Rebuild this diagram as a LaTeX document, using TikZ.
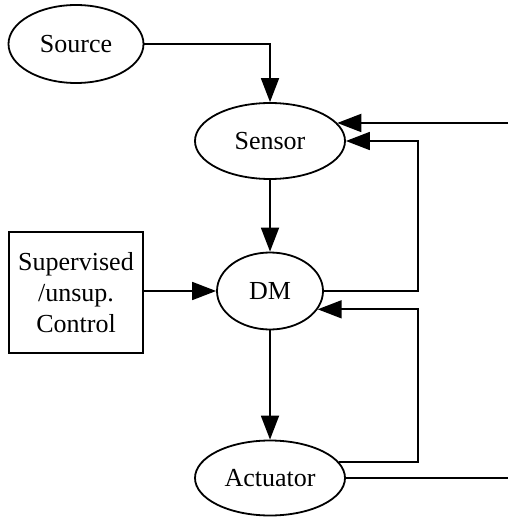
\documentclass[tikz,border=0pt]{standalone}
\usepackage{fontspec}
\setmainfont{Liberation Serif}
\usetikzlibrary{shapes.geometric,arrows.meta}
\begin{document}
\begin{tikzpicture}[x=1pt,y=-1pt,
  every node/.style={font=\fontsize{26}{31}\selectfont, align=center},
  blob/.style={ellipse, draw, line width=1.8pt, inner sep=0pt},
  ctrlbox/.style={rectangle, draw, line width=1.8pt, inner sep=0pt,
    minimum width=134pt, minimum height=121pt},
  wire/.style={line width=1.8pt},
  flow/.style={wire, -{Triangle[length=24pt,width=18pt]}}]
  \useasboundingbox (0,0) rectangle (508,518);

  % processing blocks
  \node[blob, minimum width=135pt, minimum height=78pt] (src) at (76,44) {Source};
  \node[blob, minimum width=150pt, minimum height=76pt] (sen) at (270,141) {Sensor};
  \node[blob, minimum width=106pt, minimum height=77pt] (dm)  at (270,291) {DM};
  \node[blob, minimum width=150pt, minimum height=75pt] (act) at (270,478) {Actuator};
  \node[ctrlbox] (ctl) at (76,292.5) {Supervised\\/unsup.\\Control};

  % right-hand edge and feedback rails
  \coordinate (edge) at (508,0);
  \coordinate (railA) at (418,0);
  \coordinate (railB) at (418,0);

  % forward path
  \draw[flow] (src.east) -| (sen.north);
  \draw[flow] (sen.south) -- (dm.north);
  \draw[flow] (dm.south) -- (act.north);
  \draw[flow] (ctl.east |- dm.west) -- (dm.west);

  % external input to the sensor
  \draw[flow] (sen.15 -| edge) -- (sen.15);
  % DM output looped back to the sensor
  \draw[flow] (dm.east) -| (railA |- sen.east) -- (sen.east);
  % actuator state looped back to DM
  \draw[flow] (act.13) -| (railB |- dm.-21) -- (dm.-21);
  % actuator output leaving to the right
  \draw[wire] (act.east) -- (act.east -| edge);
\end{tikzpicture}
\end{document}
